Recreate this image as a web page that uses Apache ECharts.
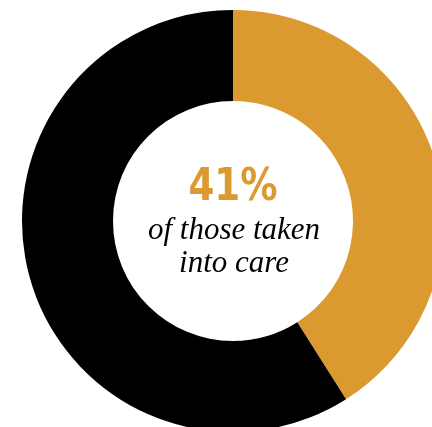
<!DOCTYPE html>
<html><head><meta charset="utf-8">
<script src="https://cdn.jsdelivr.net/npm/echarts@6/dist/echarts.min.js"></script>
<style>html,body{margin:0;padding:0;background:#fff}#c{width:432px;height:427px}</style>
</head><body><div id="c"></div>
<script>
const categories = ['Taken into care', 'Other'];
const values = [41, 59];
const colors = ['#DA9A30', '#000000'];
const headline = '41%';
const caption = ['of those taken', 'into care'];

const chart = echarts.init(document.getElementById('c'), null, {renderer: 'canvas'});
chart.setOption({
  animation: false,
  series: [{
    type: 'pie',
    center: [233, 221],
    radius: [120, 211],
    startAngle: 90,
    clockwise: true,
    label: {show: false},
    labelLine: {show: false},
    emphasis: {disabled: true},
    itemStyle: {borderWidth: 0},
    data: categories.map((n, i) => ({name: n, value: values[i], itemStyle: {color: colors[i]}}))
  }],
  graphic: [
    {type: 'text', x: 233, y: 188, scaleX: 0.92,
     style: {text: headline, textAlign: 'center', textVerticalAlign: 'middle',
       font: 'bold 45px "Liberation Sans Narrow", "DejaVu Sans Condensed", sans-serif', fill: colors[0]}},
    {type: 'text', x: 234, y: 231,
     style: {text: caption[0], textAlign: 'center', textVerticalAlign: 'middle',
       font: 'italic 31px "Liberation Serif", serif', fill: '#000'}},
    {type: 'text', x: 234, y: 264,
     style: {text: caption[1], textAlign: 'center', textVerticalAlign: 'middle',
       font: 'italic 31px "Liberation Serif", serif', fill: '#000'}}
  ]
});
</script></body></html>
